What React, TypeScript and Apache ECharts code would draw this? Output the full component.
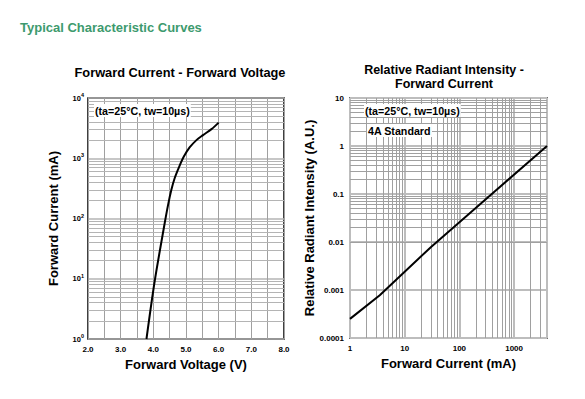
import React, { useEffect, useRef } from 'react';
import * as echarts from 'echarts';

const vfVoltage = [3.79, 4.04, 4.35, 4.45, 4.55, 4.65, 4.79, 4.93, 5.11, 5.32, 5.52, 5.78, 6.0];
const vfCurrent = [1, 9, 85, 167, 296, 462, 720, 1055, 1510, 2000, 2420, 3040, 3900];
const riCurrent = [1, 3.5, 30, 300, 4000];
const riIntensity = [0.00025, 0.00078, 0.0078, 0.077, 1];
const noteText = '(ta=25°C, tw=10µs)';
const standardText = '4A Standard';

const FONT = "'Liberation Sans', Arial, sans-serif";

function minorValues(fromExp: number, toExp: number, max: number) {
  const out: number[] = [];
  for (let d = fromExp; d <= toExp; d++) {
    for (let k = 2; k <= 9; k++) {
      const v = Number((k * Math.pow(10, d)).toPrecision(2));
      if (v < max) out.push(v);
    }
  }
  return out;
}

export default function App() {
  const ref = useRef<HTMLDivElement>(null);
  useEffect(() => {
    if (!ref.current) return;
    const chart = echarts.init(ref.current, undefined, { renderer: 'svg' });
    const minorStyle = { color: '#b4b4b4', width: 1, type: 'solid' as const };
    const vMinorStyle = { color: '#a0a0a0', width: 1, type: 'solid' as const };
    const tickLabel = { fontSize: 8, fontWeight: 'bold' as const, color: '#000', fontFamily: FONT };
    const axisName = { fontSize: 13, fontWeight: 'bold' as const, color: '#000', fontFamily: FONT };
    const ml = (data: any[], style: any) => ({
      silent: true,
      symbol: ['none', 'none'],
      label: { show: false },
      lineStyle: style,
      emphasis: { disabled: true },
      data,
    });
    const noteStyle = {
      fontSize: 10.7,
      fontWeight: 'bold',
      fontFamily: FONT,
      fill: '#000',
      backgroundColor: '#fff',
      padding: [1, 1, 1, 1],
    };
    chart.setOption({
      animation: false,
      textStyle: { fontFamily: FONT },
      title: [
        {
          text: 'Typical Characteristic Curves',
          left: 20,
          top: 21,
          padding: 0,
          textStyle: { color: '#3d9a6e', fontSize: 13, fontWeight: 'bold', fontFamily: FONT },
        },
        {
          text: 'Forward Current - Forward Voltage',
          left: 180,
          top: 66,
          padding: 0,
          textAlign: 'center',
          textStyle: { color: '#000', fontSize: 12.8, fontWeight: 'bold', fontFamily: FONT },
        },
        {
          text: 'Relative Radiant Intensity -\nForward Current',
          left: 444,
          top: 63,
          padding: 0,
          textAlign: 'center',
          textStyle: { color: '#000', fontSize: 12.5, fontWeight: 'bold', fontFamily: FONT, lineHeight: 14 },
        },
      ],
      grid: [
        { left: 88, top: 98, width: 196, height: 241, show: true, borderColor: '#000', borderWidth: 1.5, containLabel: false },
        { left: 350, top: 98, width: 197, height: 240, show: true, borderColor: '#000', borderWidth: 1.5, containLabel: false },
      ],
      xAxis: [
        {
          gridIndex: 0,
          type: 'value',
          min: 2,
          max: 8,
          interval: 0.5,
          name: 'Forward Voltage (V)',
          nameLocation: 'middle',
          nameGap: 19,
          nameTextStyle: axisName,
          axisLine: { show: false },
          axisTick: { show: false },
          axisLabel: {
            ...tickLabel,
            margin: 6,
            formatter: (v: number) => (Math.abs(v % 1) < 1e-9 ? v.toFixed(1) : ''),
          },
          splitLine: { show: true, lineStyle: vMinorStyle },
        },
        {
          gridIndex: 1,
          type: 'log',
          logBase: 10,
          min: 1,
          max: 4000,
          name: 'Forward Current (mA)',
          nameLocation: 'middle',
          nameGap: 19,
          nameTextStyle: axisName,
          axisLine: { show: false },
          axisTick: { show: false },
          axisLabel: {
            ...tickLabel,
            margin: 6,
            showMaxLabel: false,
            formatter: (v: number) => String(Number(v.toPrecision(1))),
          },
          splitLine: { show: true, lineStyle: { color: '#bdbdbd', width: 2 } },
        },
      ],
      yAxis: [
        {
          gridIndex: 0,
          type: 'log',
          logBase: 10,
          min: 1,
          max: 10000,
          name: 'Forward Current (mA)',
          nameLocation: 'middle',
          nameGap: 28,
          nameRotate: 90,
          nameTextStyle: axisName,
          axisLine: { show: false },
          axisTick: { show: false },
          axisLabel: {
            margin: 4,
            formatter: (v: number) => `{b|10}{s|${Math.round(Math.log10(v))}}`,
            rich: {
              b: { fontSize: 7.5, fontWeight: 'bold', color: '#000', fontFamily: FONT },
              s: { fontSize: 5.5, fontWeight: 'bold', color: '#000', fontFamily: FONT, padding: [0, 0, 6, 0] },
            },
          },
          splitLine: { show: true, lineStyle: { color: '#b4b4b4', width: 1.5 } },
        },
        {
          gridIndex: 1,
          type: 'log',
          logBase: 10,
          min: 0.0001,
          max: 10,
          name: 'Relative Radiant Intensity (A.U.)',
          nameLocation: 'middle',
          nameGap: 34,
          nameRotate: 90,
          nameTextStyle: axisName,
          axisLine: { show: false },
          axisTick: { show: false },
          axisLabel: { ...tickLabel, margin: 6, formatter: (v: number) => String(Number(v.toPrecision(1))) },
          splitLine: { show: true, lineStyle: { color: '#bdbdbd', width: 2 } },
        },
      ],
      series: [
        {
          type: 'line',
          xAxisIndex: 0,
          yAxisIndex: 0,
          data: vfVoltage.map((v, i) => [v, vfCurrent[i]]),
          smooth: 0.3,
          showSymbol: false,
          lineStyle: { color: '#000', width: 2 },
          markLine: ml(minorValues(0, 3, 10000).map((v) => ({ yAxis: v })), minorStyle),
          z: 5,
        },
        {
          type: 'line',
          xAxisIndex: 1,
          yAxisIndex: 1,
          data: riCurrent.map((v, i) => [v, riIntensity[i]]),
          smooth: false,
          showSymbol: false,
          lineStyle: { color: '#000', width: 2 },
          markLine: ml(
            [
              ...minorValues(0, 3, 4000).map((v) => ({ xAxis: v })),
              ...minorValues(-4, 0, 10).map((v) => ({ yAxis: v })),
            ],
            vMinorStyle
          ),
          z: 5,
        },
      ],
      graphic: [
        { type: 'text', left: 94, top: 104, z: 10, style: { text: noteText, ...noteStyle } },
        { type: 'text', left: 364, top: 104, z: 10, style: { text: noteText, ...noteStyle } },
        { type: 'text', left: 367, top: 124, z: 10, style: { text: standardText, ...noteStyle } },
      ],
    });
    return () => chart.dispose();
  }, []);
  return (
    <div
      ref={ref}
      style={{ position: 'absolute', left: 0, top: 0, width: 585, height: 399, background: '#fff' }}
    />
  );
}
